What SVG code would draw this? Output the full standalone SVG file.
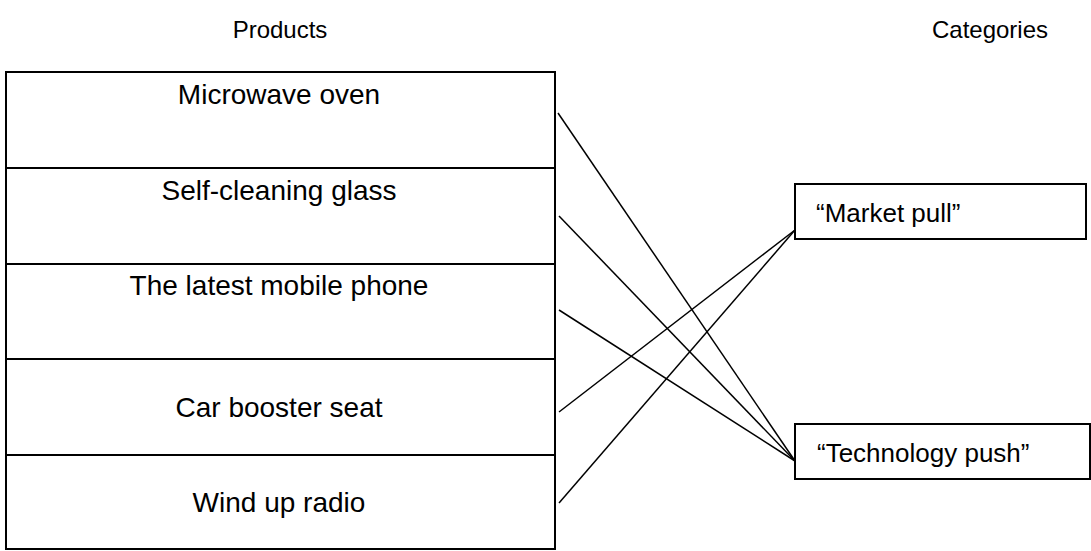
<svg xmlns="http://www.w3.org/2000/svg" width="1091" height="551" viewBox="0 0 1091 551">
  <style>
    .box { fill: #ffffff; stroke: #000000; stroke-width: 2; }
    .link { fill: none; stroke: #000000; stroke-width: 1.5; }
    text { font-family: "Liberation Sans", Arial, sans-serif; fill: #000000; }
    .head { font-size: 24px; text-anchor: middle; }
    .item { font-size: 28px; text-anchor: middle; }
    .cat { font-size: 26px; }
  </style>
  <rect width="1091" height="551" fill="#ffffff"/>

  <!-- column headings -->
  <text class="head" x="280" y="38">Products</text>
  <text class="head" x="990" y="38">Categories</text>

  <!-- product rows -->
  <g id="product-microwave">
    <rect class="box" x="6" y="72" width="549" height="96"/>
    <text class="item" x="279" y="104">Microwave oven</text>
  </g>
  <g id="product-glass">
    <rect class="box" x="6" y="168" width="549" height="96"/>
    <text class="item" x="279" y="200">Self-cleaning glass</text>
  </g>
  <g id="product-phone">
    <rect class="box" x="6" y="264" width="549" height="95"/>
    <text class="item" x="279" y="295">The latest mobile phone</text>
  </g>
  <g id="product-seat">
    <rect class="box" x="6" y="359" width="549" height="96"/>
    <text class="item" x="279" y="417">Car booster seat</text>
  </g>
  <g id="product-radio">
    <rect class="box" x="6" y="455" width="549" height="94"/>
    <text class="item" x="279" y="512">Wind up radio</text>
  </g>

  <!-- categories -->
  <g id="category-market-pull">
    <rect class="box" x="795" y="184" width="291" height="55"/>
    <text class="cat" x="816" y="222">“Market pull”</text>
  </g>
  <g id="category-technology-push">
    <rect class="box" x="795" y="424" width="295" height="55"/>
    <text class="cat" x="817" y="462">“Technology push”</text>
  </g>

  <!-- connectors -->
  <g id="connectors">
    <line class="link" x1="558" y1="113" x2="795" y2="461"/>
    <line class="link" x1="559" y1="216" x2="795" y2="461"/>
    <line class="link" x1="559" y1="310" x2="795" y2="461"/>
    <line class="link" x1="559" y1="412" x2="795" y2="230"/>
    <line class="link" x1="559" y1="503" x2="795" y2="230"/>
  </g>
</svg>
